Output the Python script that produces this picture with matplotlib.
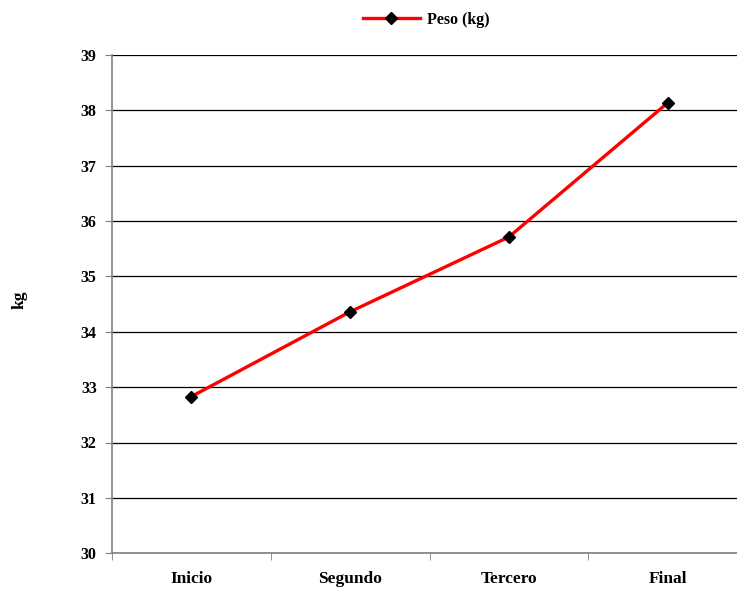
import matplotlib
matplotlib.use("Agg")
import matplotlib.pyplot as plt
import numpy as np

categories = ["Inicio", "Segundo", "Tercero", "Final"]
peso_kg = [32.83, 34.36, 35.71, 38.13]
y_ticks = [30, 31, 32, 33, 34, 35, 36, 37, 38, 39]

plt.rcParams["font.family"] = ["Liberation Serif", "DejaVu Serif"]
plt.rcParams["font.weight"] = "bold"

fig = plt.figure(figsize=(7.37, 5.89), dpi=100)
ax = fig.add_axes([112 / 737, 35.7 / 589, 635 / 737, 498.6 / 589])

x = np.arange(len(categories))
ax.plot(x, peso_kg, color="#ff0000", lw=2.4, marker="D", ms=6.5,
        mfc="black", mec="black", label="Peso (kg)", zorder=3)

ax.set_xlim(-0.5, len(categories) - 0.5)
ax.set_ylim(y_ticks[0], y_ticks[-1])
ax.set_yticks(y_ticks)
ax.set_yticklabels([str(v) for v in y_ticks], fontsize=11.5, fontweight="bold")

# category labels centred, ticks on the boundaries between categories
ax.set_xticks(x)
ax.set_xticklabels(categories, fontsize=12.5, fontweight="bold")
ax.set_xticks(np.arange(len(categories) + 1) - 0.5, minor=True)
ax.tick_params(axis="x", which="major", length=0, pad=13)
ax.tick_params(axis="x", which="minor", length=5, color="#808080", direction="out")
ax.tick_params(axis="y", length=5, color="#808080", direction="out", pad=6)

ax.grid(axis="y", color="black", lw=0.9)
ax.set_axisbelow(True)
for side in ("top", "right"):
    ax.spines[side].set_visible(False)
for side in ("left", "bottom"):
    ax.spines[side].set_color("#808080")
    ax.spines[side].set_linewidth(1.2)

fig.text(20 / 737, 1 - 300 / 589, "kg", rotation=90, ha="center", va="center",
         fontsize=12.5, fontweight="bold")

fig.legend(loc="center", bbox_to_anchor=(426 / 737, 1 - 20 / 589), frameon=False,
           handlelength=3.6, handletextpad=0.4, prop={"size": 11.5, "weight": "bold"})

fig.savefig("out.png", dpi=100)
